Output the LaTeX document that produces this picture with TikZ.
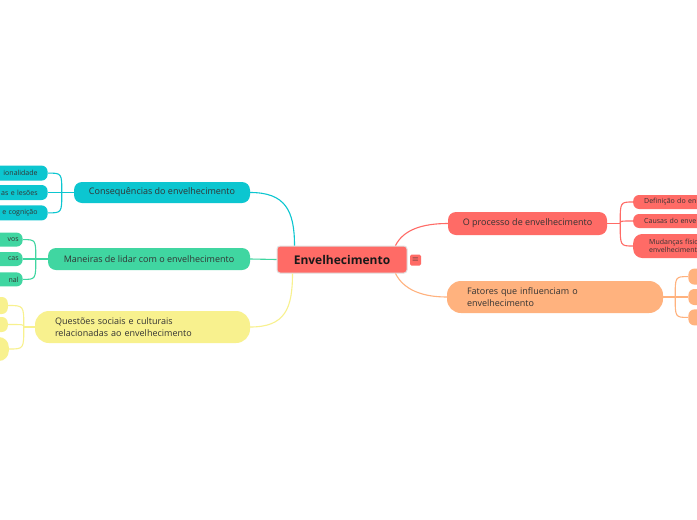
\documentclass[tikz,border=0pt]{standalone}
\usepackage{fontspec}
\setmainfont{Open Sans}
\usetikzlibrary{positioning}
\definecolor{mapred}{HTML}{FF6B66}
\definecolor{mapteal}{HTML}{0CC6D0}
\definecolor{mapgreen}{HTML}{40D6A1}
\definecolor{mapyellow}{HTML}{F8F18E}
\definecolor{maporange}{HTML}{FFB27E}
\definecolor{textdark}{HTML}{333333}

\begin{document}
\begin{tikzpicture}[x=1pt, y=-1pt,
    every node/.style={font=\fontsize{9}{11.5}\selectfont, text=textdark},
    branch/.style={rounded corners=8pt, minimum height=22pt},
    leaf/.style={rounded corners=6pt, minimum height=14pt, inner ysep=1pt, font=\fontsize{7}{8.5}\selectfont},
    leafleft/.style={leaf, text width=60pt, align=right},
    leafright/.style={leaf, text width=70pt, align=left, inner xsep=11pt},
    link/.style={line width=1.1pt}]
    \useasboundingbox (0,0) rectangle (697,520);
    \fill [white] (0,0) rectangle (697,520);
    \clip (0,0) rectangle (697,520);

    % centre
    \node (envelhecimento) [fill=mapred, draw=black!12, line width=1pt, rounded corners=3pt, minimum width=130pt, minimum height=27pt, font=\fontsize{12}{14}\selectfont\bfseries, text=black!90] at (342,259.5) {Envelhecimento};
    \node (notas) [fill=mapred, rounded corners=1.5pt, minimum size=11pt, inner sep=0pt, font=\fontsize{8}{8}\selectfont, text=black!80] at (415.5,260) {$\equiv$};

    % left branches
    \node (consequencias) [branch, fill=mapteal, minimum width=176pt, minimum height=21pt] at (162,192.5) {Consequências do envelhecimento};
    \node (maneiras) [branch, fill=mapgreen, minimum width=202pt] at (149,259) {Maneiras de lidar com o envelhecimento};
    \node (questoes) [branch, fill=mapyellow, rounded corners=14pt, text width=175pt, align=left, inner xsep=20pt, minimum height=32pt] at (142.5,327) {Questões sociais e culturais\\relacionadas ao envelhecimento};

    % right branches
    \node (processo) [branch, fill=mapred, minimum width=159pt, minimum height=23pt] at (527.5,223.5) {O processo de envelhecimento};
    \node (fatores) [branch, fill=maporange, rounded corners=14pt, text width=176pt, align=left, inner xsep=20pt, minimum height=32pt] at (555,297) {Fatores que influenciam o\\envelhecimento};

    % leaves
    \node (cons2) [leafleft, fill=mapteal, inner xsep=10pt, minimum height=15pt, left=26pt of consequencias] {as e lesões};
    \node (cons1) [leafleft, fill=mapteal, inner xsep=10pt, minimum height=15pt, above=4pt of cons2] {ionalidade};
    \node (cons3) [leafleft, fill=mapteal, inner xsep=10pt, minimum height=15pt, below=5pt of cons2] {e cognição};

    \node (man2) [leafleft, fill=mapgreen, inner xsep=4pt, left=25pt of maneiras] {cas};
    \node (man1) [leafleft, fill=mapgreen, inner xsep=4pt, above=5pt of man2] {vos};
    \node (man3) [leafleft, fill=mapgreen, inner xsep=4pt, below=6pt of man2] {nal};

    \node (quest1) [leaf, fill=mapyellow, minimum width=30pt, minimum height=17pt, anchor=east] at (8,305.5) {};
    \node (quest2) [leaf, fill=mapyellow, minimum width=30pt, minimum height=15pt, anchor=east] at (8,324.5) {};
    \node (quest3) [leaf, fill=mapyellow, rounded corners=10pt, minimum width=30pt, minimum height=24pt, anchor=east] at (9,349) {};

    \node (proc1) [leafright, fill=mapred, anchor=west] at (633,202) {Definição do en};
    \node (proc2) [leafright, fill=mapred, anchor=west] at (633,221) {Causas do enve};
    \node (proc3) [leafright, fill=mapred, rounded corners=9pt, inner xsep=16pt, minimum height=24pt, anchor=west] at (633,246) {Mudanças físic\\envelhecimento};

    \node (fat2) [leaf, fill=maporange, minimum width=30pt, minimum height=16pt, right=25pt of fatores] {};
    \node (fat1) [leaf, fill=maporange, minimum width=30pt, minimum height=16pt, above=4pt of fat2] {};
    \node (fat3) [leaf, fill=maporange, minimum width=30pt, minimum height=16pt, below=4pt of fat2] {};

    % main links
    \draw [link, mapteal] ([xshift=18pt]envelhecimento.north west) .. controls +(0,-35) and +(35,0) .. (consequencias.east);
    \draw [link, mapgreen] (maneiras.east) -- (envelhecimento.west);
    \draw [link, mapyellow] ([xshift=16pt]envelhecimento.south west) .. controls +(0,35) and +(35,0) .. (questoes.east);
    \draw [link, mapred] ([xshift=-12pt]envelhecimento.north east) .. controls +(8,-16) and +(-25,0) .. (processo.west);
    \draw [link, maporange] ([xshift=-12pt]envelhecimento.south east) .. controls +(8,16) and +(-25,0) .. (fatores.west);

    % brackets
    \coordinate (consj) at ([xshift=-12pt]consequencias.west);
    \draw [link, mapteal] (consequencias.west) -- (consj);
    \foreach \kid in {cons1,cons2,cons3}
        \draw [link, mapteal] (consj) .. controls (consj |- \kid.east) .. (\kid.east);

    \coordinate (manj) at ([xshift=-12pt]maneiras.west);
    \draw [link, mapgreen] (maneiras.west) -- (manj);
    \foreach \kid in {man1,man2,man3}
        \draw [link, mapgreen] (manj) .. controls (manj |- \kid.east) .. (\kid.east);

    \coordinate (questj) at ([xshift=-11pt]questoes.west);
    \draw [link, mapyellow] (questoes.west) -- (questj);
    \foreach \kid in {quest1,quest2,quest3}
        \draw [link, mapyellow] (questj) .. controls (questj |- \kid.east) .. (\kid.east);

    \coordinate (procj) at ([xshift=13pt]processo.east);
    \draw [link, mapred] (processo.east) -- (procj);
    \foreach \kid in {proc1,proc2,proc3}
        \draw [link, mapred] (procj) .. controls (procj |- \kid.west) .. (\kid.west);

    \coordinate (fatj) at ([xshift=12pt]fatores.east);
    \draw [link, maporange] (fatores.east) -- (fatj);
    \foreach \kid in {fat1,fat2,fat3}
        \draw [link, maporange] (fatj) .. controls (fatj |- \kid.west) .. (\kid.west);
\end{tikzpicture}
\end{document}
